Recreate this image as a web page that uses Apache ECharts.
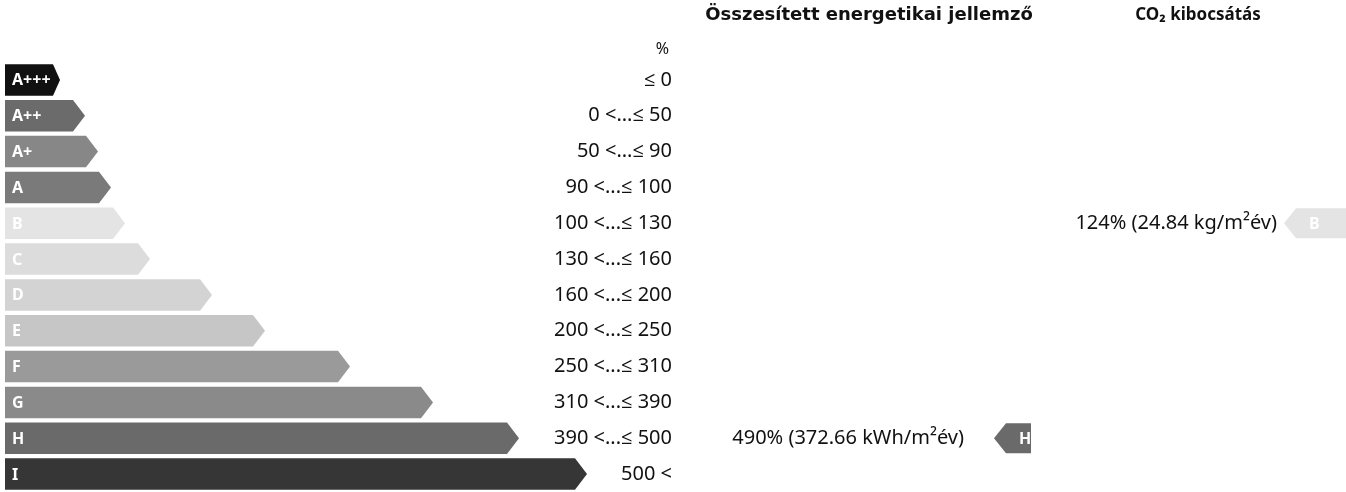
<!DOCTYPE html>
<html>
<head>
<meta charset="utf-8">
<script src="https://cdn.jsdelivr.net/npm/echarts@6/dist/echarts.min.js"></script>
<style>
  html, body { margin: 0; padding: 0; background: #fff; }
  #chart { width: 1346px; height: 492px; }
</style>
</head>
<body>
<div id="chart"></div>
<script>
// energy classes, top to bottom
const classes = ['A+++', 'A++', 'A+', 'A', 'B', 'C', 'D', 'E', 'F', 'G', 'H', 'I']
const rangeLabels = ['≤ 0', '0 <...≤ 50', '50 <...≤ 90', '90 <...≤ 100', '100 <...≤ 130', '130 <...≤ 160',
  '160 <...≤ 200', '200 <...≤ 250', '250 <...≤ 310', '310 <...≤ 390', '390 <...≤ 500', '500 <']
// arrow length of each class bar (scale units)
const barLength = [55, 80, 93, 106, 120, 145, 207, 260, 345, 428, 514, 582]
const classColors = ['#111111', '#6b6b6b', '#878787', '#7a7a7a', '#e4e4e4', '#dcdcdc',
  '#d3d3d3', '#c6c6c6', '#9a9a9a', '#8a8a8a', '#6a6a6a', '#363636']

// the two results
const energyClass = 'H'
const energyText = '490% (372.66 kWh/m²év)'
const co2Class = 'B'
const co2Text = '124% (24.84 kg/m²év)'

const font = '"Noto Sans", "Open Sans", sans-serif'
const chart = echarts.init(document.getElementById('chart'))

const arrow = (x0, x1, y, h, tip, dir) => {
  // dir 1 = points right, -1 = points left
  if (dir > 0) {
    return [[x0, y - h / 2], [x1 - tip, y - h / 2], [x1, y], [x1 - tip, y + h / 2], [x0, y + h / 2]]
  }
  return [[x0, y], [x0 + tip, y - h / 2], [x1, y - h / 2], [x1, y + h / 2], [x0 + tip, y + h / 2]]
}

const option = {
  backgroundColor: '#fff',
  animation: false,
  grid: { left: 5, right: 0, top: 62, height: 432 },
  xAxis: { type: 'value', min: 0, max: 1341, show: false },
  yAxis: [
    { type: 'category', data: classes, inverse: true, show: false },
    {
      type: 'category',
      data: rangeLabels,
      inverse: true,
      position: 'left',
      offset: -667,
      axisLine: { show: false },
      axisTick: { show: false },
      axisLabel: { margin: 0, fontSize: 20, color: '#111', fontFamily: font },
      name: '%',
      nameLocation: 'start',
      nameGap: 5,
      nameTextStyle: { fontSize: 16, color: '#111', fontFamily: font, align: 'right', padding: [0, 3, 0, 0] }
    }
  ],
  graphic: [
    {
      type: 'text', x: 869, y: 15,
      style: { text: 'Összesített energetikai jellemző', align: 'center', verticalAlign: 'middle', font: 'bold 18px "DejaVu Sans", sans-serif', fill: '#111' }
    },
    {
      type: 'text', x: 1198, y: 15,
      style: { text: 'CO₂ kibocsátás', align: 'center', verticalAlign: 'middle', font: 'bold 17px ' + font, fill: '#111' }
    }
  ],
  series: [
    {
      type: 'custom',
      name: 'classes',
      encode: { x: 0, y: 1 },
      data: barLength.map((v, i) => [v, i]),
      renderItem: (params, api) => {
        const i = api.value(1)
        const start = api.coord([0, i])
        const end = api.coord([api.value(0), i])
        const h = api.size([0, 1])[1] * 0.88
        const tip = i === 0 ? 7 : 12
        return {
          type: 'group',
          children: [
            {
              type: 'polygon',
              shape: { points: arrow(start[0], end[0], start[1], h, tip, 1) },
              style: { fill: classColors[i] }
            },
            {
              type: 'text',
              x: start[0] + 7, y: start[1] + 1,
              style: { text: classes[i], align: 'left', verticalAlign: 'middle', font: 'bold 16px ' + font, fill: '#fff' }
            }
          ]
        }
      }
    },
    {
      type: 'custom',
      name: 'results',
      encode: { x: 0, y: 1 },
      // marker tip position, class index
      data: [
        [989, classes.indexOf(energyClass)],
        [1279, classes.indexOf(co2Class)]
      ],
      renderItem: (params, api) => {
        const i = api.value(1)
        const p = api.coord([api.value(0), i])
        const h = api.size([0, 1])[1] * 0.84
        const first = params.dataIndex === 0
        const w = first ? 37 : 80
        return {
          type: 'group',
          children: [
            {
              type: 'polygon',
              shape: { points: arrow(p[0], p[0] + w, p[1], h, 12, -1) },
              style: { fill: classColors[i] }
            },
            {
              type: 'text',
              x: p[0] + 25, y: p[1] + 1,
              style: { text: classes[i], align: 'left', verticalAlign: 'middle', font: 'bold 16px ' + font, fill: '#fff' }
            },
            {
              type: 'text',
              x: p[0] - (first ? 30 : 7), y: p[1],
              style: { text: first ? energyText : co2Text, align: 'right', verticalAlign: 'middle', font: '20px ' + font, fill: '#111' }
            }
          ]
        }
      }
    }
  ]
}

option && chart.setOption(option)
</script>
</body>
</html>
